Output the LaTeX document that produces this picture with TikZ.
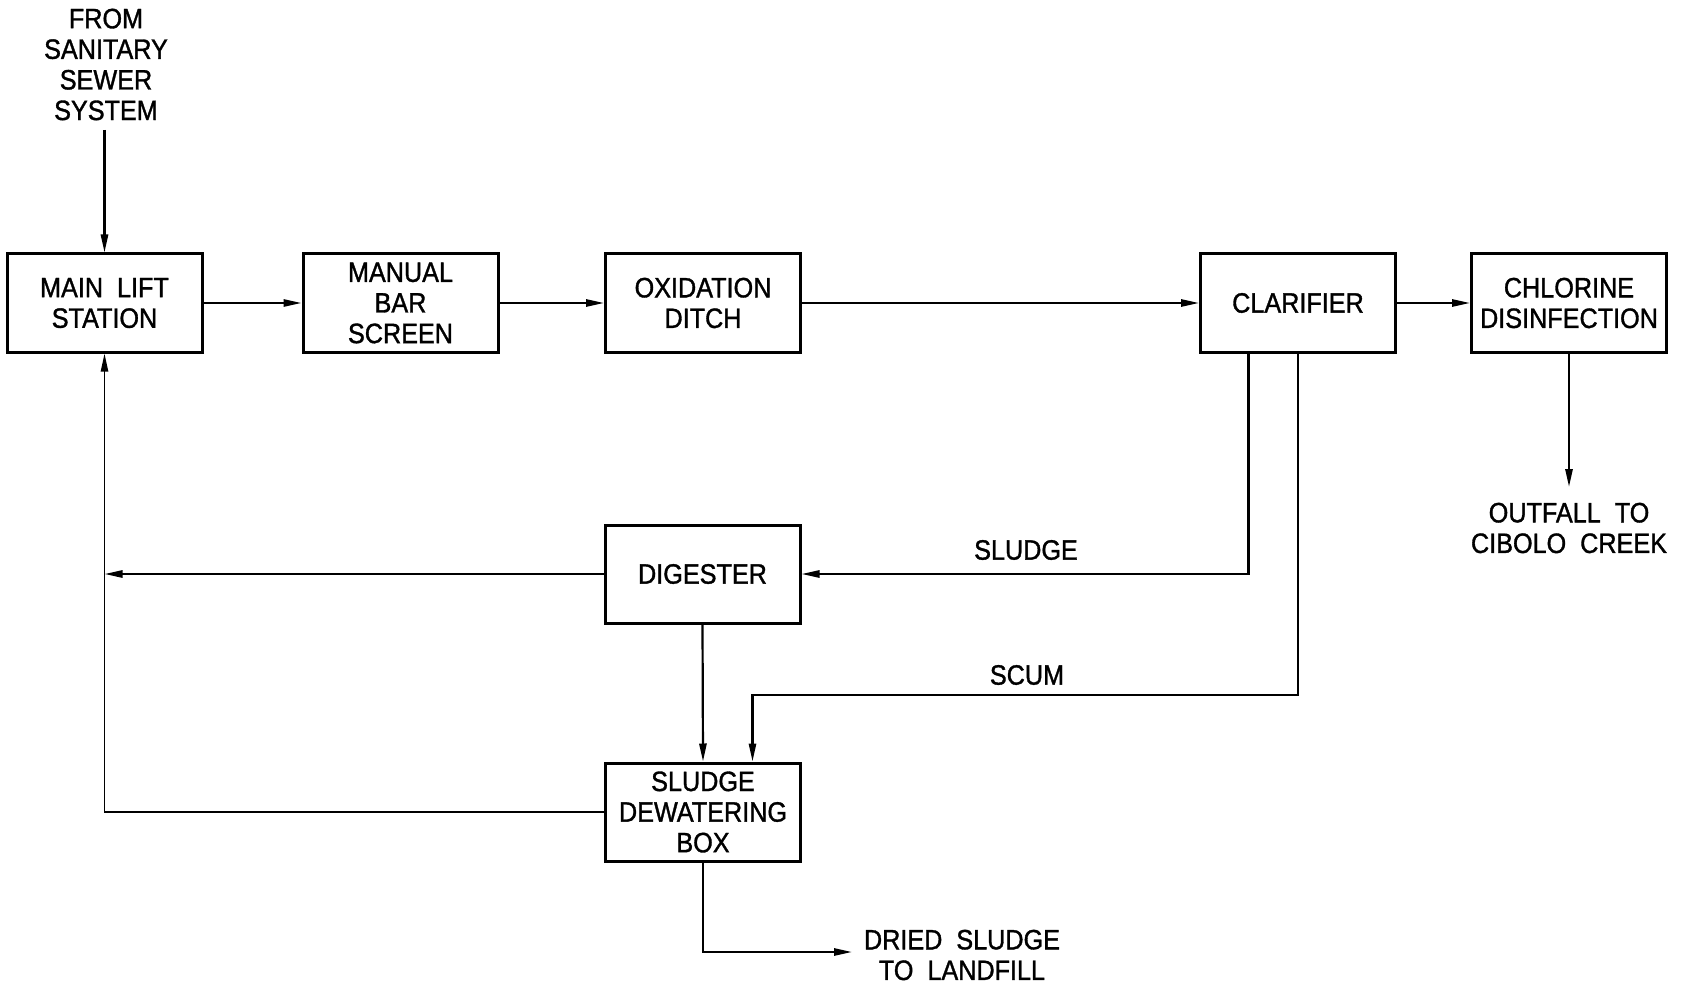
\documentclass[tikz,border=0pt]{standalone}
\usepackage{fontspec}
\setmainfont{Liberation Sans}[FakeStretch=0.9,FakeBold=1.2]
\usetikzlibrary{arrows.meta,calc}
\begin{document}
\begin{tikzpicture}[x=0.5pt,y=-0.5pt,
  box/.style={draw,line width=1.5pt,minimum width=97.5pt,minimum height=49pt,align=center,inner sep=0pt,font=\fontsize{14}{15.3}\selectfont},
  lbl/.style={align=center,inner sep=0pt,font=\fontsize{14}{15.3}\selectfont},
  arr/.style={line width=1.1pt,-{Triangle[length=9pt,width=3.6pt]}}]
\useasboundingbox (0,0) rectangle (1681,984);
\node[box] (main) at (104.5,303) {MAIN\ \ LIFT\\STATION};
\node[box] (manual) at (400.5,303) {MANUAL\\BAR\\SCREEN};
\node[box] (oxid) at (703,303) {OXIDATION\\DITCH};
\node[box] (clar) at (1298,303) {CLARIFIER};
\node[box] (chlor) at (1569,303) {CHLORINE\\DISINFECTION};
\node[box] (dig) at (702.5,574) {DIGESTER};
\node[box] (dew) at (703,812) {SLUDGE\\DEWATERING\\BOX};

\node[lbl] (from) at (106,64.5) {FROM\\SANITARY\\SEWER\\SYSTEM};
\node[lbl] (outfall) at (1569,528) {OUTFALL\ \ TO\\CIBOLO\ \ CREEK};
\node[lbl] (sludge) at (1026,550) {SLUDGE};
\node[lbl] (scum) at (1027,675) {SCUM};
\node[lbl] (dried) at (962,955) {DRIED\ \ SLUDGE\\TO\ \ LANDFILL};

\coordinate (src) at (104.5,130);
\coordinate (out) at (1569,487);
\coordinate (scumturn) at (1297,695);
\coordinate (dry) at (852,952);
\coordinate (clarsl) at ($(clar.south)!0.5!(clar.south west)$);
\coordinate (dewin) at ($(dew.north)!0.5!(dew.north east)$);

\draw[arr] (src) -- (main.north);
\draw[arr] (main.east) -- (manual.west);
\draw[arr] (manual.east) -- (oxid.west);
\draw[arr] (oxid.east) -- (clar.west);
\draw[arr] (clar.east) -- (chlor.west);
\draw[arr] (chlor.south) -- (out);
\draw[arr] (clarsl) |- (dig.east);
\draw[arr] (clar.south) -- (clar.south |- scumturn) -| (dewin);
\draw[arr] (dig.south) -- (dew.north);
\draw[arr] (dig.west) -- (dig.west -| main.south);
\draw[arr,line width=0.9pt] (dew.west) -| (main.south);
\draw[arr] (dew.south) |- (dry);
\end{tikzpicture}
\end{document}
